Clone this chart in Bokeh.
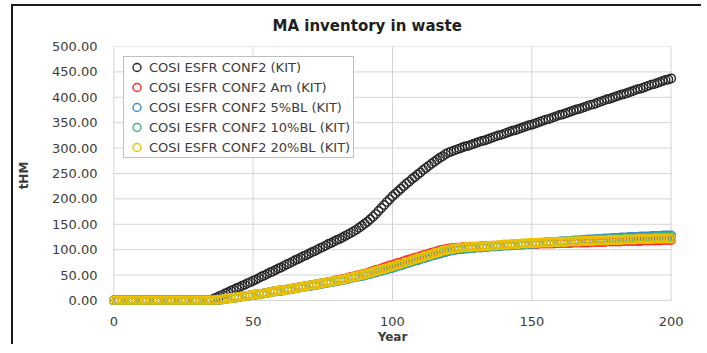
from bokeh.plotting import figure
from bokeh.models import FixedTicker, NumeralTickFormatter
from bokeh.embed import file_html
from bokeh.resources import INLINE

# ---------------- data (tHM, one value per year) ----------------
years = list(range(0, 201))

kit = [0] * 35 + [
    1, 4, 6, 9, 11, 14, 16, 19, 21, 24, 26, 29, 31, 34, 36, 39,
    41, 44, 47, 49, 52, 55, 57, 60, 63, 65,
    68, 71, 73, 76, 79, 81, 84, 87, 89, 92,
    95, 97, 100, 103, 105, 108, 111, 113, 116, 119,
    121, 124, 127, 130, 133, 136, 139, 143, 147, 151,
    155, 160, 165, 170, 176, 182, 188, 194, 199, 205,
    210, 215, 220, 225, 230, 234, 239, 243, 248, 252,
    257, 261, 265, 269, 273, 277, 281, 284, 288, 291,
    293, 295, 297, 299, 301, 303, 304, 306, 308, 310,
    312, 314, 315, 317, 319, 321, 323, 325, 326, 328,
    330, 332, 334, 335, 337, 339, 341, 343, 345, 346,
    348, 350, 352, 354, 356, 357, 359, 361, 363, 365,
    366, 368, 370, 372, 374, 376, 377, 379, 381, 383,
    385, 386, 388, 390, 392, 394, 396, 397, 399, 401,
    403, 405, 406, 408, 410, 412, 414, 416, 417, 419,
    421, 423, 425, 426, 428, 430, 432, 434, 435, 437,
]

kit_am = [0] * 37 + [
    1, 1, 2, 3, 4, 5, 5, 6, 7, 8, 9, 9, 10, 11,
    12, 13, 13, 14, 15, 16, 17, 18, 19, 20,
    20, 21, 22, 23, 24, 25, 26, 27, 28, 29,
    30, 31, 32, 33, 34, 35, 36, 37, 38, 40,
    41, 42, 43, 45, 46, 47, 48, 50, 51, 52,
    54, 56, 58, 60, 61, 63, 65, 67, 69, 70,
    72, 74, 75, 77, 79, 80, 82, 84, 85, 87,
    89, 90, 92, 94, 95, 97, 99, 100, 101, 102,
    103, 103, 104, 104, 105, 105, 105, 106, 106, 106,
    106, 107, 107, 107, 107, 108, 108, 108, 108, 109,
    109, 109, 109, 110, 110, 110, 110, 111, 111, 111,
    111, 111, 112, 112, 112, 112, 112, 112, 113, 113,
    113, 113, 113, 113, 114, 114, 114, 114, 114, 114,
    115, 115, 115, 115, 115, 115, 116, 116, 116, 116,
    116, 116, 117, 117, 117, 117, 117, 117, 117, 118,
    118, 118, 118, 118, 118, 118, 119, 119, 119, 119,
]

kit_bl5 = [0] * 37 + [
    1, 1, 2, 3, 4, 4, 5, 6, 7, 8, 8, 9, 10, 11,
    11, 12, 13, 14, 15, 16, 17, 18, 18, 19,
    20, 21, 22, 23, 24, 25, 26, 27, 28, 28,
    29, 30, 31, 32, 33, 34, 35, 36, 37, 38,
    39, 40, 41, 42, 44, 45, 46, 47, 48, 49,
    51, 52, 54, 55, 57, 58, 60, 61, 63, 64,
    66, 68, 69, 71, 73, 74, 76, 78, 79, 81,
    83, 84, 86, 88, 89, 91, 92, 94, 95, 97,
    98, 99, 100, 101, 101, 102, 102, 103, 103, 104,
    104, 104, 105, 105, 106, 106, 106, 107, 107, 108,
    108, 108, 109, 109, 110, 110, 110, 111, 111, 112,
    112, 112, 113, 113, 114, 114, 114, 115, 115, 116,
    116, 116, 117, 117, 118, 118, 118, 119, 119, 120,
    120, 120, 121, 121, 121, 122, 122, 122, 123, 123,
    123, 124, 124, 124, 125, 125, 125, 125, 126, 126,
    126, 126, 127, 127, 127, 127, 128, 128, 128, 128,
]

kit_bl10 = [0] * 37 + [
    1, 1, 2, 3, 4, 5, 5, 6, 7, 8, 9, 9, 10, 11,
    12, 12, 13, 14, 15, 16, 17, 18, 19, 19,
    20, 21, 22, 23, 24, 25, 26, 27, 28, 29,
    30, 31, 32, 33, 34, 35, 36, 37, 38, 39,
    40, 41, 42, 43, 45, 46, 47, 48, 49, 51,
    52, 54, 55, 57, 58, 60, 61, 63, 64, 66,
    68, 69, 71, 73, 74, 76, 78, 79, 81, 83,
    84, 86, 88, 89, 91, 93, 94, 96, 97, 99,
    100, 101, 102, 102, 103, 103, 104, 104, 104, 105,
    105, 106, 106, 106, 107, 107, 107, 108, 108, 109,
    109, 109, 110, 110, 110, 111, 111, 111, 112, 112,
    112, 113, 113, 113, 114, 114, 114, 115, 115, 115,
    116, 116, 116, 116, 117, 117, 117, 118, 118, 118,
    118, 119, 119, 119, 119, 120, 120, 120, 120, 121,
    121, 121, 121, 122, 122, 122, 122, 123, 123, 123,
    123, 123, 124, 124, 124, 124, 124, 125, 125, 125,
]

kit_bl20 = [0] * 37 + [
    1, 1, 2, 3, 4, 5, 5, 6, 7, 8, 9, 9, 10, 11,
    12, 13, 13, 14, 15, 16, 17, 18, 19, 20,
    20, 21, 22, 23, 24, 25, 26, 27, 28, 29,
    30, 31, 32, 33, 34, 35, 36, 37, 38, 39,
    40, 41, 42, 44, 45, 46, 47, 49, 50, 51,
    53, 54, 56, 58, 59, 61, 62, 64, 66, 67,
    69, 71, 72, 74, 76, 77, 79, 81, 83, 84,
    86, 88, 89, 91, 93, 94, 96, 98, 99, 100,
    101, 102, 103, 104, 104, 105, 105, 105, 106, 106,
    106, 107, 107, 107, 108, 108, 108, 109, 109, 110,
    110, 110, 111, 111, 111, 112, 112, 112, 113, 113,
    113, 113, 114, 114, 114, 114, 114, 115, 115, 115,
    115, 115, 116, 116, 116, 116, 116, 117, 117, 117,
    117, 117, 118, 118, 118, 118, 118, 119, 119, 119,
    119, 119, 120, 120, 120, 120, 120, 121, 121, 121,
    121, 121, 121, 122, 122, 122, 122, 122, 122, 122,
]

series_names = [
    "COSI ESFR CONF2 (KIT)",
    "COSI ESFR CONF2 Am (KIT)",
    "COSI ESFR CONF2 5%BL (KIT)",
    "COSI ESFR CONF2 10%BL (KIT)",
    "COSI ESFR CONF2 20%BL (KIT)",
]
series_values = [kit, kit_am, kit_bl5, kit_bl10, kit_bl20]
series_colors = ["#262626", "#ff2a2a", "#3a8fd0", "#3cb371", "#f2c200"]

x_ticks = [0, 50, 100, 150, 200]
y_ticks = [0, 50, 100, 150, 200, 250, 300, 350, 400, 450, 500]

FONT = "DejaVu Sans"
TXT = "#3c3c3c"

# ---------------- figure ----------------
p = figure(
    width=690, height=340,
    output_backend="svg", toolbar_location=None,
    x_range=(-3, 203), y_range=(-8, 500),
    min_border_left=92, min_border_right=24,
    min_border_top=40, min_border_bottom=42,
    background_fill_color="white", border_fill_color="white",
)
# outer chart box: dark rule along the top and left edges (drawn as a shadow)
p.styles = {
    "margin-top": "6px",
    "margin-left": "13px",
    "box-shadow": "-2px -2px 0px 0px #1a1a1a",
}
p.outline_line_color = None
p.xgrid.visible = False
p.ygrid.visible = False

p.title.text = "MA inventory in waste"
p.title.text_font = FONT
p.title.text_font_size = "15px"
p.title.text_font_style = "bold"
p.title.text_color = "#1e1e1e"
p.title.align = "left"
p.title.offset = 167
p.title.vertical_align = "top"
p.title.standoff = 20

# grid lines built from the tick arrays
p.segment(x0=x_ticks, y0=[y_ticks[0]] * len(x_ticks), x1=x_ticks, y1=[y_ticks[-1]] * len(x_ticks),
          line_color="#d4d4d4", line_width=1)
p.segment(x0=[x_ticks[0]] * len(y_ticks), y0=y_ticks, x1=[x_ticks[-1]] * len(y_ticks), y1=y_ticks,
          line_color="#d4d4d4", line_width=1)

for name, vals, col in zip(series_names, series_values, series_colors):
    p.scatter(years, vals, marker="circle", size=8.5, fill_color=None,
              line_color=col, line_width=1.4, legend_label=name)

# axes
for ax in (p.xaxis[0], p.yaxis[0]):
    ax.axis_line_color = None
    ax.major_tick_line_color = None
    ax.minor_tick_line_color = None
    ax.major_label_text_font = FONT
    ax.major_label_text_font_size = "13px"
    ax.major_label_text_color = TXT
    ax.axis_label_text_font = FONT
    ax.axis_label_text_font_style = "bold"
    ax.axis_label_text_color = TXT

p.xaxis[0].ticker = FixedTicker(ticks=x_ticks)
p.xaxis[0].major_label_standoff = 6
p.xaxis[0].axis_label = "Year"
p.xaxis[0].axis_label_text_font_size = "12px"
p.xaxis[0].axis_label_standoff = 1

p.yaxis[0].ticker = FixedTicker(ticks=y_ticks)
p.yaxis[0].formatter = NumeralTickFormatter(format="0.00")
p.yaxis[0].major_label_standoff = 2
p.yaxis[0].axis_label = "tHM"
p.yaxis[0].axis_label_text_font_size = "12px"
p.yaxis[0].axis_label_standoff = 18

# legend
lg = p.legend[0]
lg.location = (18, 146)
lg.border_line_color = "#808080"
lg.border_line_width = 1
lg.background_fill_color = "white"
lg.background_fill_alpha = 1.0
lg.padding = 0
lg.spacing = 0
lg.margin = 0
lg.glyph_width = 25
lg.glyph_height = 20
lg.label_height = 20
lg.label_standoff = 0
lg.label_width = 204
lg.label_text_font = FONT
lg.label_text_font_size = "13px"
lg.label_text_color = TXT

open("out.html", "w").write(file_html(p, INLINE))
